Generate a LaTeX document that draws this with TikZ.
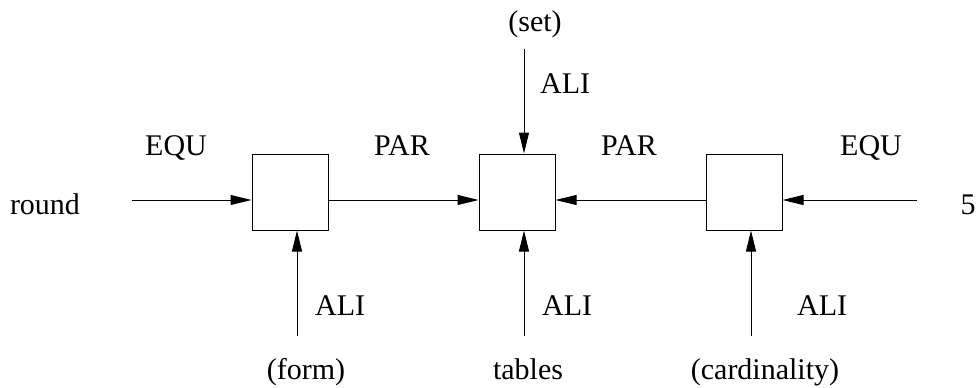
\documentclass[tikz,border=0pt]{standalone}
\usepackage{fontspec}
\setmainfont{Liberation Serif}
\usetikzlibrary{arrows.meta}
\begin{document}
\begin{tikzpicture}[x=1pt,y=-1pt,
  box/.style={draw,line width=1pt,minimum width=76pt,minimum height=76pt,inner sep=0pt},
  conn/.style={line width=1pt,-{Triangle[length=21pt,width=10pt]}},
  lbl/.style={font=\fontsize{30}{32}\selectfont,inner sep=0pt,anchor=base}]
\useasboundingbox (0,0) rectangle (978,388);
\node[box] (b1) at (290,192) {};
\node[box] (b2) at (517,192) {};
\node[box] (b3) at (744,192) {};
\coordinate (lin) at (132,200);
\coordinate (rin) at (917,200);
\coordinate (top) at (524,49);
\coordinate (f1) at (297,336);
\coordinate (f2) at (524,336);
\coordinate (f3) at (751,336);
\draw[conn] (lin) -- (b1.west |- lin);
\draw[conn] (b1.east |- lin) -- (b2.west |- lin);
\draw[conn] (b3.west |- rin) -- (b2.east |- rin);
\draw[conn] (rin) -- (b3.east |- rin);
\draw[conn] (top) -- (b2.north -| top);
\draw[conn] (f1) -- (b1.south -| f1);
\draw[conn] (f2) -- (b2.south -| f2);
\draw[conn] (f3) -- (b3.south -| f3);
\node[lbl] (tround) at (45,214) {round};
\node[lbl] (tfive) at (968,214) {5};
\node[lbl] (tset) at (535,31) {(set)};
\node[lbl,anchor=base west] (ali0) at (540,93) {ALI};
\node[lbl] (equ1) at (176,155) {EQU};
\node[lbl] (par1) at (402,155) {PAR};
\node[lbl] (par2) at (629,155) {PAR};
\node[lbl] (equ2) at (871,155) {EQU};
\node[lbl,anchor=base west] (ali1) at (315,315) {ALI};
\node[lbl,anchor=base west] (ali2) at (542,315) {ALI};
\node[lbl,anchor=base west] (ali3) at (797,315) {ALI};
\node[lbl] (tform) at (306,379) {(form)};
\node[lbl] (ttables) at (528,379) {tables};
\node[lbl] (tcard) at (765,379) {(cardinality)};
\end{tikzpicture}
\end{document}
